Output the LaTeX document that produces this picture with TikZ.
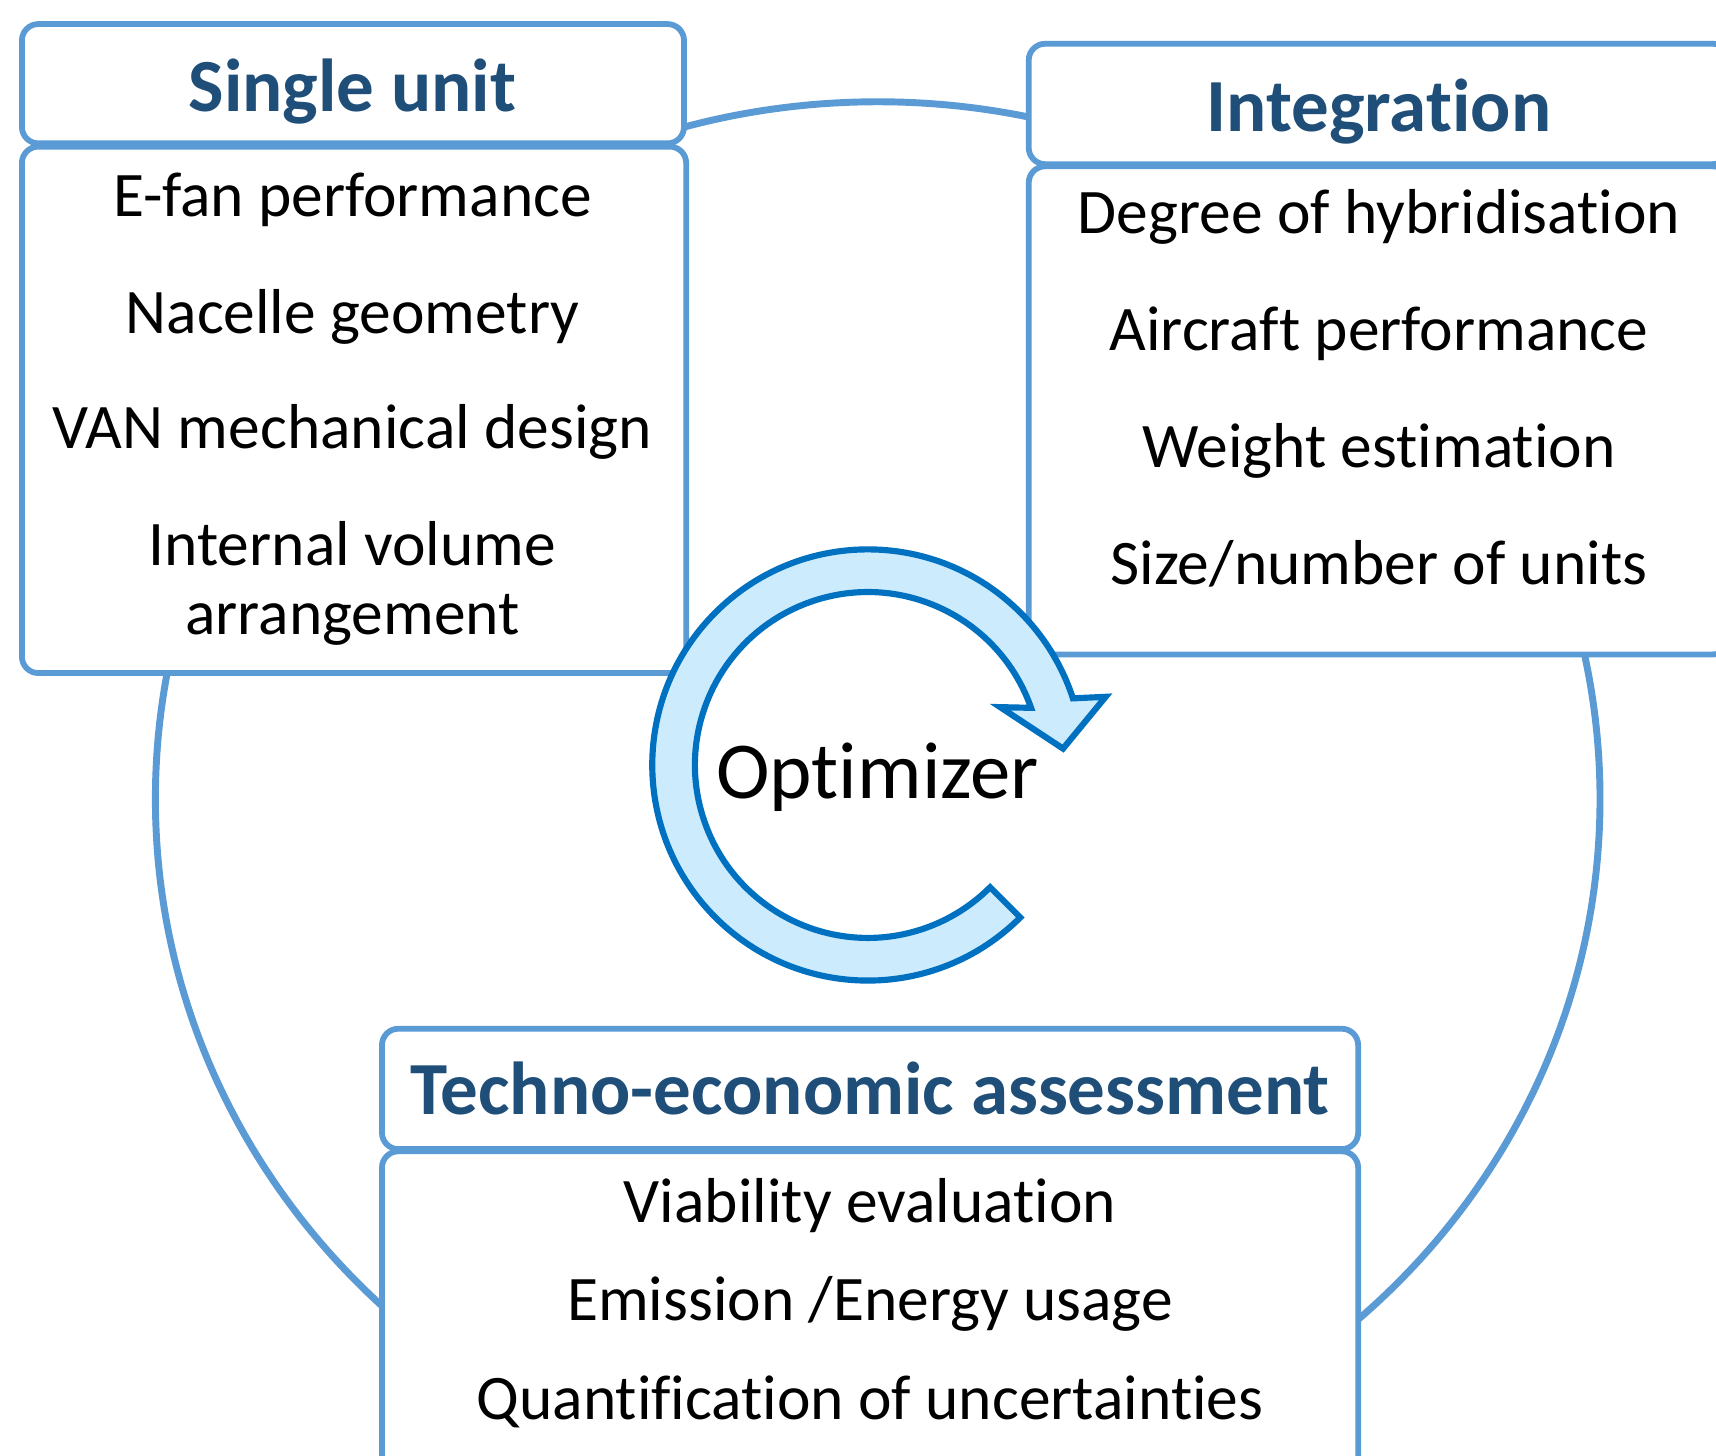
\documentclass[tikz,border=0pt]{standalone}
\usepackage{fontspec}
\setmainfont[Ligatures=NoCommon]{Carlito}
\definecolor{boxblue}{HTML}{5B9BD5}
\definecolor{titleblue}{HTML}{1F4E79}
\definecolor{arrowfill}{HTML}{CCEBFD}
\definecolor{arrowline}{HTML}{0070C0}
\tikzset{
  headbox/.style={draw=boxblue, line width=1.5pt, fill=white, rounded corners=0.15cm, inner sep=0pt},
  bodybox/.style={draw=boxblue, line width=1.5pt, fill=white, rounded corners=0.15cm, inner sep=0pt},
  headtext/.style={anchor=base, text=titleblue, font=\fontsize{19.5}{24}\selectfont\bfseries},
  item/.style={anchor=base, font=\fontsize{16.5}{20}\selectfont},
}

\begin{document}
\begin{tikzpicture}
        \clip (0,0) rectangle (15.68,13.30);
        \fill[white] (0,0) rectangle (15.68,13.30);
        %ring behind the boxes
        \draw[boxblue, line width=1.8pt] (8.02,6.00) ellipse [x radius=6.60, y radius=6.37];
        %single unit
        \node[headbox, minimum width=6.05cm, minimum height=1.09cm] (singlehead) at (3.225,12.535) {};
        \node[bodybox, minimum width=6.07cm, minimum height=4.81cm] (singlebody) at (3.235,9.555) {};
        \node[headtext] (singletitle) at (3.22,12.28) {Single unit};
        \node[item] (efan) at (3.22,11.32) {E-fan performance};
        \node[item] (nacelle) at (3.22,10.25) {Nacelle geometry};
        \node[item] (van) at (3.22,9.20) {VAN mechanical design};
        \node[item] (internal) at (3.22,8.13) {Internal volume};
        \node[item] (arrange) at (3.22,7.50) {arrangement};
        %integration
        \node[headbox, minimum width=6.40cm, minimum height=1.10cm] (inthead) at (12.60,12.35) {};
        \node[bodybox, minimum width=6.40cm, minimum height=4.46cm] (intbody) at (12.60,9.55) {};
        \node[headtext] (inttitle) at (12.60,12.10) {Integration};
        \node[item] (degree) at (12.60,11.17) {Degree of hybridisation};
        \node[item] (aircraft) at (12.60,10.10) {Aircraft performance};
        \node[item] (weight) at (12.60,9.03) {Weight estimation};
        \node[item] (size) at (12.60,7.96) {Size/number of units};
        %techno-economic
        \node[headbox, minimum width=8.92cm, minimum height=1.10cm] (techhead) at (7.95,3.35) {};
        \node[bodybox, minimum width=8.92cm, minimum height=3.00cm] (techbody) at (7.95,1.28) {};
        \node[headtext] (techtitle) at (7.95,3.12) {Techno-economic assessment};
        \node[item] (viability) at (7.95,2.13) {Viability evaluation};
        \node[item] (emission) at (7.95,1.23) {Emission /Energy usage};
        \node[item] (quant) at (7.95,0.33) {Quantification of uncertainties};
        %optimizer loop
        \begin{scope}[shift={(7.93,6.31)}]
        \filldraw[fill=arrowfill, draw=arrowline, line width=1.6pt, line join=miter]
          (-45:1.97) arc[start angle=-45, end angle=-342, radius=1.97]
          -- (-344:2.26) -- (-355.2:1.79) -- (-336.4:1.32) -- (-340.7:1.58)
          arc[start angle=-340.7, end angle=-45, radius=1.58] -- cycle;
        \end{scope}
        \node[anchor=base, font=\fontsize{21}{25}\selectfont] (opt) at (8.02,6.00) {Optimizer};
\end{tikzpicture}
\end{document}
